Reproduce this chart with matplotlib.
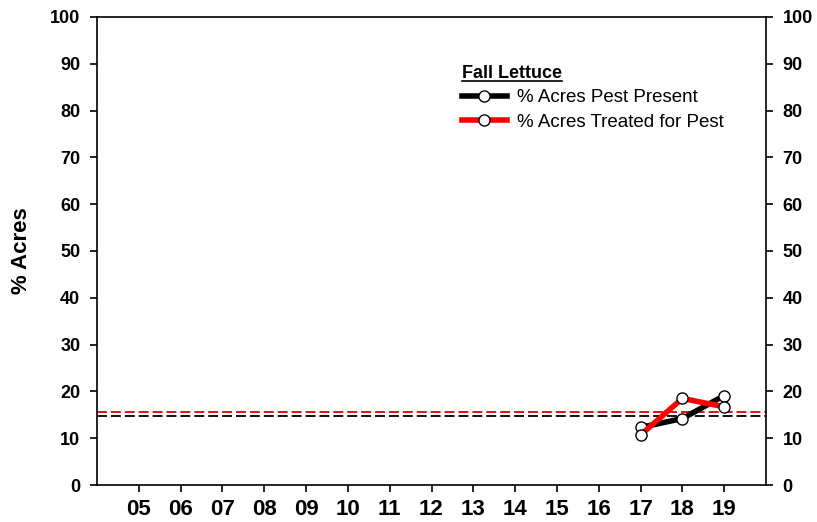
import matplotlib
matplotlib.use("Agg")
import matplotlib.pyplot as plt
from matplotlib.lines import Line2D

plt.rcParams['font.family'] = ['Liberation Sans', 'DejaVu Sans']

# data
years = [17, 18, 19]
pest_present = [12.3, 14.2, 19.1]
pest_treated = [10.7, 18.5, 16.7]
avg_present = 14.8
avg_treated = 15.5
tick_years = list(range(5, 20))
tick_labels = ["%02d" % y for y in tick_years]

fig = plt.figure(figsize=(8.17, 5.22), dpi=100)
ax = fig.add_axes([97/817, 1 - 485/522, (766-97)/817, (485-17)/522])

ax.axhline(avg_present, color='black', lw=1.3, ls=(0, (5.5, 2.2)))
ax.axhline(avg_treated, color='#dd0000', lw=1.3, ls=(0, (5.5, 2.2)))

ax.plot(years, pest_present, color='black', lw=4, marker='o', ms=8,
        mfc='white', mec='black', mew=1.0, label='% Acres Pest Present', zorder=3)
ax.plot(years, pest_treated, color='red', lw=4, marker='o', ms=8,
        mfc='white', mec='black', mew=1.0, label='% Acres Treated for Pest', zorder=4)

ax.set_xlim(4, 20)
ax.set_ylim(0, 100)
ax.set_xticks(tick_years)
ax.set_xticklabels(tick_labels, fontsize=16, fontweight='bold')
ax.set_yticks(range(0, 101, 10))
ax.tick_params(axis='y', which='both', right=True, labelright=True, direction='out',
               length=5, pad=7, width=1.2)
ax.tick_params(axis='x', direction='out', length=5, pad=5, width=1.2)
for lab in ax.get_yticklabels():
    lab.set_fontweight('bold')
    lab.set_fontsize(13)
ax.set_ylabel('% Acres', fontsize=16, fontweight='bold', labelpad=13)
for s in ax.spines.values():
    s.set_linewidth(1.2)

leg = ax.legend(loc='upper left', bbox_to_anchor=(0.545, 0.898), frameon=False,
                fontsize=13.5, handlelength=2.4, numpoints=1, borderaxespad=0,
                borderpad=0, title='Fall Lettuce', alignment='left', labelspacing=0.4,
                handletextpad=0.55)
leg.get_title().set_fontweight('bold')
leg.get_title().set_fontsize(13)

# underline legend title
fig.canvas.draw()
bb = leg.get_title().get_window_extent().transformed(fig.transFigure.inverted())
fig.add_artist(Line2D([bb.x0, bb.x1], [bb.y0 + 0.002, bb.y0 + 0.002],
                      transform=fig.transFigure, color='black', lw=1.2))

fig.savefig('out.png', dpi=100)
